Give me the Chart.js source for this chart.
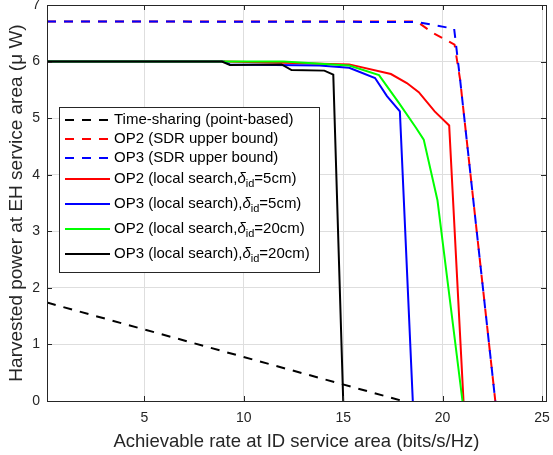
<!DOCTYPE html>
<html>
<head>
<meta charset="utf-8">
<script src="https://cdn.jsdelivr.net/npm/chart.js@4.4.1/dist/chart.umd.min.js"></script>
<style>
  body { margin: 0; background: #fff; }
  canvas { display: block; }
</style>
</head>
<body>
<canvas id="myChart" width="553" height="455"></canvas>
<script>
// tick labels
const xTicks = [5, 10, 15, 20, 25];
const yTicks = [0, 1, 2, 3, 4, 5, 6, 7];

// Time-sharing (point-based)
const tsX = [0.1, 18.0];
const tsY = [1.74, 0];

// OP2 (SDR upper bound)
const op2SdrX = [0.1, 18.7, 19.5, 20.6, 20.88, 22.65];
const op2SdrY = [6.71, 6.71, 6.51, 6.30, 5.68, 0];

// OP3 (SDR upper bound)
const op3SdrX = [0.1, 18.7, 20.58, 20.88, 22.65];
const op3SdrY = [6.71, 6.70, 6.58, 5.68, 0];

// OP2 (local search, 5cm)
const op2Ls5X = [0.1, 9.0, 12.0, 15.3, 17.4, 18.2, 18.8, 19.6, 20.33, 21.05];
const op2Ls5Y = [6.0, 6.0, 5.98, 5.95, 5.78, 5.62, 5.46, 5.12, 4.87, 0];

// OP3 (local search, 5cm)
const op3Ls5X = [0.1, 9.0, 9.3, 13.8, 15.3, 16.6, 17.2, 17.85, 18.5];
const op3Ls5Y = [6.0, 6.0, 5.95, 5.93, 5.89, 5.71, 5.39, 5.12, 0];

// OP2 (local search, 20cm)
const op2Ls20X = [0.1, 12.0, 15.3, 16.8, 17.8, 18.66, 19.05, 19.74, 21.0];
const op2Ls20Y = [6.0, 6.0, 5.93, 5.76, 5.27, 4.83, 4.62, 3.55, 0];

// OP3 (local search, 20cm)
const op3Ls20X = [0.1, 8.9, 9.3, 11.9, 12.4, 14.05, 14.5, 15.0];
const op3Ls20Y = [6.0, 6.0, 5.94, 5.95, 5.85, 5.84, 5.77, 0];

const seriesLabels = [
    'Time-sharing (point-based)',
    'OP2 (SDR upper bound)',
    'OP3 (SDR upper bound)',
    'OP2 (local search,δ_id=5cm)',
    'OP3 (local search),δ_id=5cm)',
    'OP2 (local search,δ_id=20cm)',
    'OP3 (local search),δ_id=20cm)'
];

const seriesX = [tsX, op2SdrX, op3SdrX, op2Ls5X, op3Ls5X, op2Ls20X, op3Ls20X];
const seriesY = [tsY, op2SdrY, op3SdrY, op2Ls5Y, op3Ls5Y, op2Ls20Y, op3Ls20Y];

const lineColors = ['#000000', '#ff0000', '#0000ff', '#ff0000', '#0000ff', '#00ff00', '#000000'];
const dashed = [true, true, true, false, false, false, false];

const FONT = "'Liberation Sans', Arial, sans-serif";
const AXIS = '#262626';

function toPoints(xs, ys) {
    return xs.map(function (x, i) { return { x: x, y: ys[i] }; });
}

const datasets = seriesLabels.map(function (label, i) {
    return {
        label: label,
        data: toPoints(seriesX[i], seriesY[i]),
        borderColor: lineColors[i],
        backgroundColor: lineColors[i],
        borderWidth: 2,
        borderDash: dashed[i] ? [9, 8] : [],
        pointRadius: 0,
        tension: 0,
        fill: false,
        order: seriesLabels.length - i   // later series on top, like matlab
    };
});

// box, inward ticks and the legend
const matlabAxes = {
    id: 'matlabAxes',
    afterDraw: function (chart) {
        const ctx = chart.ctx;
        const a = chart.chartArea;
        const xs = chart.scales.x, ys = chart.scales.y;
        ctx.save();
        ctx.strokeStyle = AXIS;
        ctx.lineWidth = 1;
        ctx.setLineDash([]);
        ctx.beginPath();
        xTicks.forEach(function (v) {
            const px = Math.round(xs.getPixelForValue(v)) + 0.5;
            ctx.moveTo(px, a.bottom); ctx.lineTo(px, a.bottom - 5);
            ctx.moveTo(px, a.top); ctx.lineTo(px, a.top + 5);
        });
        yTicks.forEach(function (v) {
            const py = Math.round(ys.getPixelForValue(v)) + 0.5;
            ctx.moveTo(a.left, py); ctx.lineTo(a.left + 5, py);
            ctx.moveTo(a.right, py); ctx.lineTo(a.right - 5, py);
        });
        ctx.stroke();
        ctx.strokeRect(Math.round(a.left) + 0.5, Math.round(a.top) + 0.5,
            Math.round(a.right - a.left), Math.round(a.bottom - a.top));

        // legend
        const bx = Math.round(a.left) + 12, by = Math.round(a.top) + 102;
        const bw = 260, bh = 165;
        const rows = [13, 32, 51, 72, 97, 122, 147];
        ctx.fillStyle = '#ffffff';
        ctx.fillRect(bx, by, bw, bh);
        ctx.strokeStyle = AXIS;
        ctx.lineWidth = 1;
        ctx.strokeRect(bx + 0.5, by + 0.5, bw, bh);

        chart.data.datasets.forEach(function (ds, i) {
            const y = by + rows[i];
            ctx.strokeStyle = ds.borderColor;
            ctx.lineWidth = 2;
            ctx.setLineDash(ds.borderDash);
            ctx.beginPath();
            ctx.moveTo(bx + 6, y);
            ctx.lineTo(bx + 51, y);
            ctx.stroke();
            ctx.setLineDash([]);

            ctx.fillStyle = '#000000';
            ctx.textBaseline = 'middle';
            ctx.textAlign = 'left';
            let tx = bx + 55;
            const parts = ds.label.split('δ_id');
            ctx.font = '15px ' + FONT;
            ctx.fillText(parts[0], tx, y);
            tx += ctx.measureText(parts[0]).width;
            if (parts.length > 1) {
                ctx.font = 'italic 15px ' + FONT;
                ctx.fillText('δ', tx, y);
                tx += ctx.measureText('δ').width;
                ctx.font = '11px ' + FONT;
                ctx.fillText('id', tx, y + 5);
                tx += ctx.measureText('id').width;
                ctx.font = '15px ' + FONT;
                ctx.fillText(parts[1], tx, y);
            }
        });
        ctx.restore();
    }
};

document.addEventListener('DOMContentLoaded', function () {
    const ctx = document.getElementById('myChart').getContext('2d');
    const chart = new Chart(ctx, {
        type: 'line',
        data: { datasets: datasets },
        plugins: [matlabAxes],
        options: {
            responsive: false,
            animation: false,
            layout: { padding: { left: 0, right: 7, top: 5, bottom: 0 } },
            plugins: {
                legend: { display: false },
                tooltip: { enabled: false }
            },
            scales: {
                x: {
                    type: 'linear',
                    min: 0.1,
                    max: 25.2,
                    afterBuildTicks: function (axis) {
                        axis.ticks = xTicks.map(function (v) { return { value: v }; });
                    },
                    afterFit: function (s) {
                        s.height = 54;
                        s.paddingLeft = 0;
                        s.paddingRight = 0;
                    },
                    ticks: {
                        autoSkip: false,
                        maxRotation: 0,
                        padding: 9,
                        color: AXIS,
                        font: { family: FONT, size: 14 }
                    },
                    grid: { color: '#dedede', drawTicks: false },
                    border: { display: false },
                    title: {
                        display: true,
                        text: 'Achievable rate at ID service area (bits/s/Hz)',
                        color: AXIS,
                        font: { family: FONT, size: 18.5 },
                        padding: { top: 0, bottom: 2 }
                    }
                },
                y: {
                    min: 0,
                    max: 7,
                    afterBuildTicks: function (axis) {
                        axis.ticks = yTicks.map(function (v) { return { value: v }; });
                    },
                    afterFit: function (s) {
                        s.width = 47;
                        s.paddingTop = 0;
                        s.paddingBottom = 0;
                    },
                    ticks: {
                        padding: 7,
                        color: AXIS,
                        font: { family: FONT, size: 14 }
                    },
                    grid: { color: '#dedede', drawTicks: false },
                    border: { display: false },
                    title: {
                        display: true,
                        text: 'Harvested power at EH service area (μ W)',
                        color: AXIS,
                        font: { family: FONT, size: 19 },
                        padding: { top: 5, bottom: 0 }
                    }
                }
            }
        }
    });
});
</script>
</body>
</html>
